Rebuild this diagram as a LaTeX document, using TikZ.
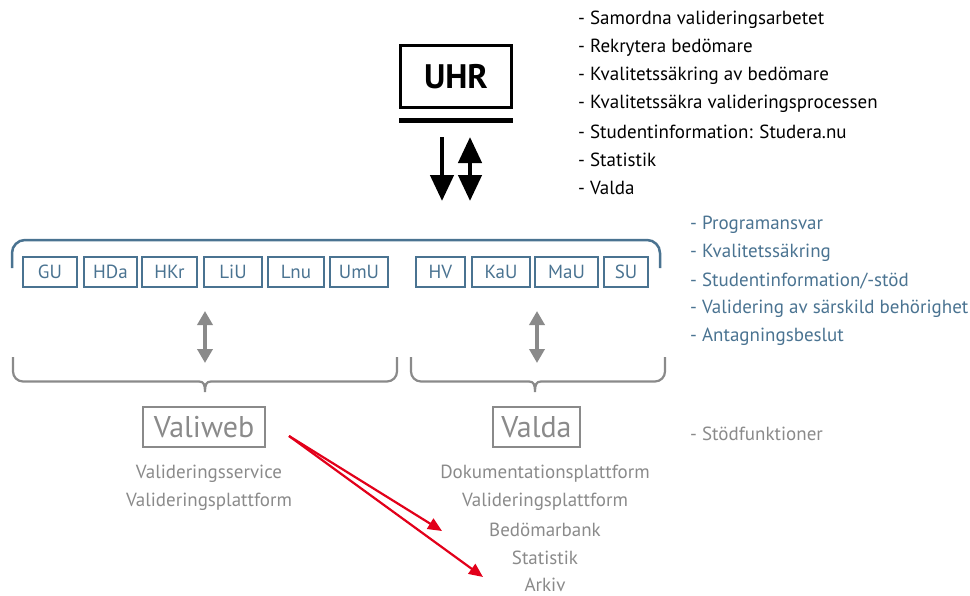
\documentclass[tikz,border=0pt]{standalone}
\usepackage{fontspec}
\setmainfont{PT Sans}
\usetikzlibrary{arrows.meta}
\definecolor{ublue}{HTML}{4A7391}
\definecolor{ugrey}{HTML}{8A8A8A}
\definecolor{ured}{HTML}{E2001A}
\begin{document}
\begin{tikzpicture}[x=1pt,y=-1pt,
  uni/.style={draw=ublue, line width=2pt, text=ublue, font=\fontsize{19}{21}\selectfont, minimum height=30pt, inner sep=0pt},
  lst/.style={anchor=west, inner sep=0pt, font=\fontsize{19}{21}\selectfont},
  sys/.style={draw=ugrey, line width=2.5pt, text=ugrey, font=\fontsize{30}{32}\selectfont, minimum height=40pt, inner sep=0pt},
  sub/.style={inner sep=0pt, text=ugrey, font=\fontsize{19}{21}\selectfont},
  blk/.style={line width=4.5pt, black},
  gra/.style={line width=4pt, ugrey, {Triangle[width=15pt,length=14pt]}-{Triangle[width=15pt,length=14pt]}},
  red/.style={line width=2.2pt, ured, -{Triangle[width=12pt,length=14pt]}}
]
\useasboundingbox (0,0) rectangle (970,595);

% UHR
\node[draw, line width=3pt, minimum width=111pt, minimum height=62pt, inner sep=0pt,
      font=\fontsize{34}{36}\selectfont\bfseries] (uhr) at (456,76.5) {UHR};
\draw[line width=5pt] ([yshift=-11.5pt]uhr.south west) -- ([yshift=-11.5pt]uhr.south east);

% black arrows
\coordinate (a1s) at (442,137);
\coordinate (a1e) at (442,201);
\coordinate (a2s) at (470,137);
\coordinate (a2e) at (470,201);
\draw[blk, -{Triangle[width=23pt,length=26pt]}] (a1s) -- (a1e);
\draw[blk, {Triangle[width=23pt,length=26pt]}-{Triangle[width=23pt,length=26pt]}] (a2s) -- (a2e);

% UHR list
\node[lst] (l1) at (578,20) {- Samordna valideringsarbetet};
\node[lst] (l2) at (578,48) {- Rekrytera bedömare};
\node[lst] (l3) at (578,76) {- Kvalitetssäkring av bedömare};
\node[lst] (l4) at (578,104) {- Kvalitetssäkra valideringsprocessen};
\node[lst] (l5) at (578,132) {- Studentinformation: Studera.nu};
\node[lst] (l6) at (578,160) {- Statistik};
\node[lst] (l7) at (578,188) {- Valda};

% blue bracket
\draw[ublue, line width=2.5pt, rounded corners=13pt] (12,268) -- (12,240) -- (660,240) -- (660,268);

% universities
\node[uni, minimum width=54pt] (gu)  at (50,272) {GU};
\node[uni, minimum width=53pt] (hda) at (110.5,272) {HDa};
\node[uni, minimum width=55pt] (hkr) at (169.5,272) {HKr};
\node[uni, minimum width=58pt] (liu) at (233,272) {LiU};
\node[uni, minimum width=56pt] (lnu) at (296,272) {Lnu};
\node[uni, minimum width=58pt] (umu) at (359,272) {UmU};
\node[uni, minimum width=49pt] (hv)  at (440.5,272) {HV};
\node[uni, minimum width=58pt] (kau) at (501,272) {KaU};
\node[uni, minimum width=63pt] (mau) at (566.5,272) {MaU};
\node[uni, minimum width=44pt] (su)  at (626,272) {SU};

% blue list
\begin{scope}[every node/.style={lst, text=ublue}]
\node (b1) at (690,225) {- Programansvar};
\node (b2) at (690,253) {- Kvalitetssäkring};
\node (b3) at (690,281) {- Studentinformation/-stöd};
\node (b4) at (690,309) {- Validering av särskild behörighet};
\node (b5) at (690,337) {- Antagningsbeslut};
\end{scope}

% grey double arrows
\coordinate (g1s) at (205,311);
\coordinate (g1e) at (205,363);
\coordinate (g2s) at (537,311);
\coordinate (g2e) at (537,363);
\draw[gra] (g1s) -- (g1e);
\draw[gra] (g2s) -- (g2e);

% grey braces
\draw[ugrey, line width=2.2pt, rounded corners=10pt] (13,357) -- (13,381.5) -- (199,381.5);
\draw[ugrey, line width=2.2pt] (199,381.5) .. controls (204,381.5) and (205,385) .. (205,392)
   .. controls (205,385) and (206,381.5) .. (211,381.5);
\draw[ugrey, line width=2.2pt, rounded corners=10pt] (211,381.5) -- (397,381.5) -- (397,357);

\draw[ugrey, line width=2.2pt, rounded corners=10pt] (411,357) -- (411,381.5) -- (529,381.5);
\draw[ugrey, line width=2.2pt] (529,381.5) .. controls (534,381.5) and (535,385) .. (535,392)
   .. controls (535,385) and (536,381.5) .. (541,381.5);
\draw[ugrey, line width=2.2pt, rounded corners=10pt] (541,381.5) -- (665,381.5) -- (665,357);

% systems
\node[sys, minimum width=122pt] (valiweb) at (204,427) {Valiweb};
\node[sys, minimum width=87pt] (valda) at (536.5,427) {Valda};
\node[lst, text=ugrey] (stod) at (690,434) {- Stödfunktioner};

\node[sub] (vw1) at (209,474) {Valideringsservice};
\node[sub] (vw2) at (209,502) {Valideringsplattform};

\node[sub] (vd1) at (545,474) {Dokumentationsplattform};
\node[sub] (vd2) at (545,502) {Valideringsplattform};
\node[sub] (vd3) at (545,530) {Bedömarbank};
\node[sub] (vd4) at (545,558) {Statistik};
\node[sub] (vd5) at (545,585) {Arkiv};

% red arrows
\coordinate (rs) at (289,436);
\coordinate (re1) at (442,531);
\coordinate (re2) at (483,577);
\draw[red] (rs) -- (re1);
\draw[red] (rs) -- (re2);
\end{tikzpicture}
\end{document}
